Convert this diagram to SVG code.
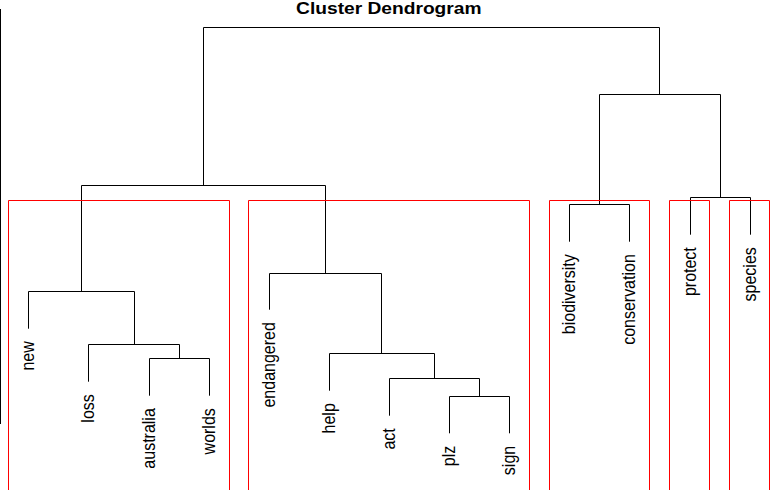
<svg xmlns="http://www.w3.org/2000/svg" width="779" height="500" viewBox="0 0 779 500">
<style>
.ln{fill:none;stroke:#000;stroke-width:1}
.rb{fill:none;stroke:#ff0000;stroke-width:1}
.lb{font-family:"Liberation Sans",Arial,sans-serif;font-size:16px;fill:#000;text-anchor:end}
.tt{font-family:"Liberation Sans",Arial,sans-serif;font-size:16px;font-weight:bold;fill:#000;text-anchor:middle}
</style>
<rect width="779" height="500" fill="#fff"/>
<text class="tt" transform="translate(388.8,14) scale(1.2,1)">Cluster Dendrogram</text>
<line class="ln" x1="0.5" y1="9" x2="0.5" y2="424"/>
<g id="connectors">
<path class="ln" d="M203.5,185.5V27.5H659.5V94.5"/>
<path class="ln" d="M81.5,291.5V185.5H325.5V273.5"/>
<path class="ln" d="M599.5,204.5V94.5H720.5V197.5"/>
<path class="ln" d="M569.5,241.7V204.5H629.5V241.7"/>
<path class="ln" d="M690.5,234.7V197.5H750.5V234.7"/>
<path class="ln" d="M28.5,328.7V291.5H134.5V344.5"/>
<path class="ln" d="M88.5,381.7V344.5H179.5V358.5"/>
<path class="ln" d="M149.5,395.7V358.5H209.5V395.7"/>
<path class="ln" d="M269.5,309.7V273.5H381.5V353.5"/>
<path class="ln" d="M329.5,390.7V353.5H434.5V378.5"/>
<path class="ln" d="M389.5,415.7V378.5H479.5V396.5"/>
<path class="ln" d="M449.5,433.3V396.5H509.5V433.3"/>
</g>
<g id="clusters">
<path class="rb" d="M8.5,490V200.5H229.5V490"/>
<path class="rb" d="M248.5,490V200.5H529.5V490"/>
<path class="rb" d="M549.5,490V200.5H649.5V490"/>
<path class="rb" d="M669.5,490V200.5H709.5V490"/>
<path class="rb" d="M729.5,490V200.5H769.5V490"/>
</g>
<g id="n-new"><text class="lb" transform="translate(33.5,341.2) scale(1.2,1) rotate(-90)">new</text></g>
<g id="n-loss"><text class="lb" transform="translate(93.5,394.2) scale(1.2,1) rotate(-90)">loss</text></g>
<g id="n-australia"><text class="lb" transform="translate(154.5,408.2) scale(1.2,1) rotate(-90)">australia</text></g>
<g id="n-worlds"><text class="lb" transform="translate(214.5,408.2) scale(1.2,1) rotate(-90)">worlds</text></g>
<g id="n-endangered"><text class="lb" transform="translate(274.5,322.2) scale(1.2,1) rotate(-90)">endangered</text></g>
<g id="n-help"><text class="lb" transform="translate(334.5,403.2) scale(1.2,1) rotate(-90)">help</text></g>
<g id="n-act"><text class="lb" transform="translate(394.5,428.2) scale(1.2,1) rotate(-90)">act</text></g>
<g id="n-plz"><text class="lb" transform="translate(454.5,445.8) scale(1.2,1) rotate(-90)">plz</text></g>
<g id="n-sign"><text class="lb" transform="translate(514.5,445.8) scale(1.2,1) rotate(-90)">sign</text></g>
<g id="n-biodiversity"><text class="lb" transform="translate(574.5,254.2) scale(1.2,1) rotate(-90)">biodiversity</text></g>
<g id="n-conservation"><text class="lb" transform="translate(634.5,254.2) scale(1.2,1) rotate(-90)">conservation</text></g>
<g id="n-protect"><text class="lb" transform="translate(695.5,247.2) scale(1.2,1) rotate(-90)">protect</text></g>
<g id="n-species"><text class="lb" transform="translate(755.5,247.2) scale(1.2,1) rotate(-90)">species</text></g>
</svg>
